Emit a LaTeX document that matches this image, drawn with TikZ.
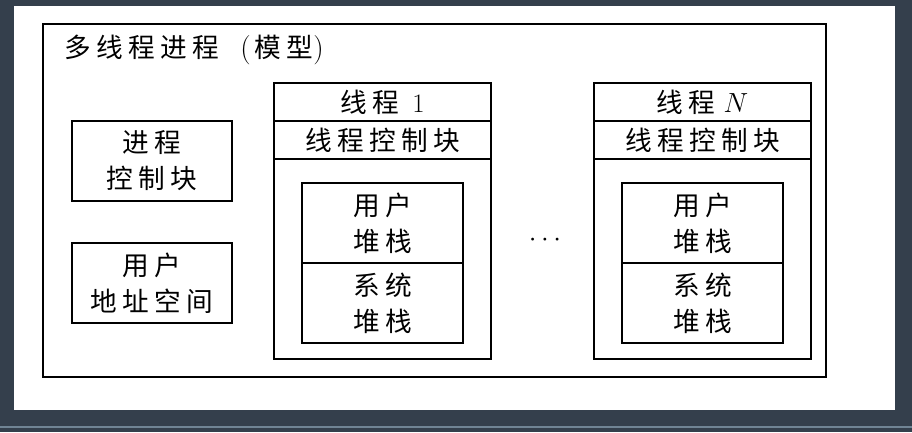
\documentclass[tikz,border=0pt]{standalone}
\usepackage{fontspec}
\newfontfamily\cjk[LetterSpace=20]{Noto Sans CJK SC}
\usetikzlibrary{positioning}
\definecolor{bgDark}{RGB}{52,63,76}
\definecolor{bgLine}{RGB}{112,132,148}
\newcommand{\boxfont}{\cjk\fontsize{20}{27}\selectfont}
\tikzset{
	frame/.style={draw, line width=1.5pt},
	cellbox/.style={
		draw,
		line width=1.5pt,
		align=center,
		inner sep=0pt,
		outer sep=0pt,
		font=\boxfont
	},
	pcbbox/.style={cellbox, minimum width=120pt, minimum height=60pt},
	rowbox/.style={cellbox, minimum width=162.75pt, minimum height=28.5pt},
	stackbox/.style={cellbox, minimum width=120.75pt, minimum height=60pt}
}

\begin{document}
\begin{tikzpicture}[x=0.75pt, y=-0.75pt]
		\useasboundingbox (0,0) rectangle (912,432);
		\fill[bgDark] (0,0) rectangle (912,432);
		\fill[white] (14,6) rectangle (895,410);
		\draw[bgLine, line width=1pt] (0,427) -- (912,427);
		% process frame
		\draw[frame] (43,24) rectangle (826,377);
		\node[anchor=west, font=\cjk\fontsize{20}{26}\selectfont, inner sep=0pt] (title) at (64,50) {多线程进程\hspace{16pt}{\rmfamily\fontsize{22}{26}\selectfont(}\hspace{3pt}模型{\rmfamily\fontsize{22}{26}\selectfont)}};
		\node[pcbbox] (pcb) at (152,161) {进程\\控制块};
		\node[pcbbox] (uaddr) at (152,283) {用户\\地址空间};
		% thread 1
		\node[rowbox] (t1head) at (382.5,102) {线程\hspace{10pt}{\rmfamily 1}};
		\node[rowbox, below=0pt of t1head] (t1tcb) {线程控制块};
		\coordinate (t1bot) at (382.5,359);
		\draw[frame] (t1tcb.south west) rectangle (t1tcb.south east |- t1bot);
		\node[stackbox] (t1user) at (382.5,223) {用户\\堆栈};
		\node[stackbox, below=0pt of t1user] (t1sys) {系统\\堆栈};
		% dots
		\node[font=\fontsize{20}{24}\selectfont] (dots) at (545,240) {$\cdots$};
		% thread N
		\node[rowbox] (tNhead) at (702.5,102) {线程\hspace{6pt}{\rmfamily $N$}};
		\node[rowbox, below=0pt of tNhead] (tNtcb) {线程控制块};
		\coordinate (tNbot) at (702.5,359);
		\draw[frame] (tNtcb.south west) rectangle (tNtcb.south east |- tNbot);
		\node[stackbox] (tNuser) at (702.5,223) {用户\\堆栈};
		\node[stackbox, below=0pt of tNuser] (tNsys) {系统\\堆栈};
	\end{tikzpicture}
\end{document}
